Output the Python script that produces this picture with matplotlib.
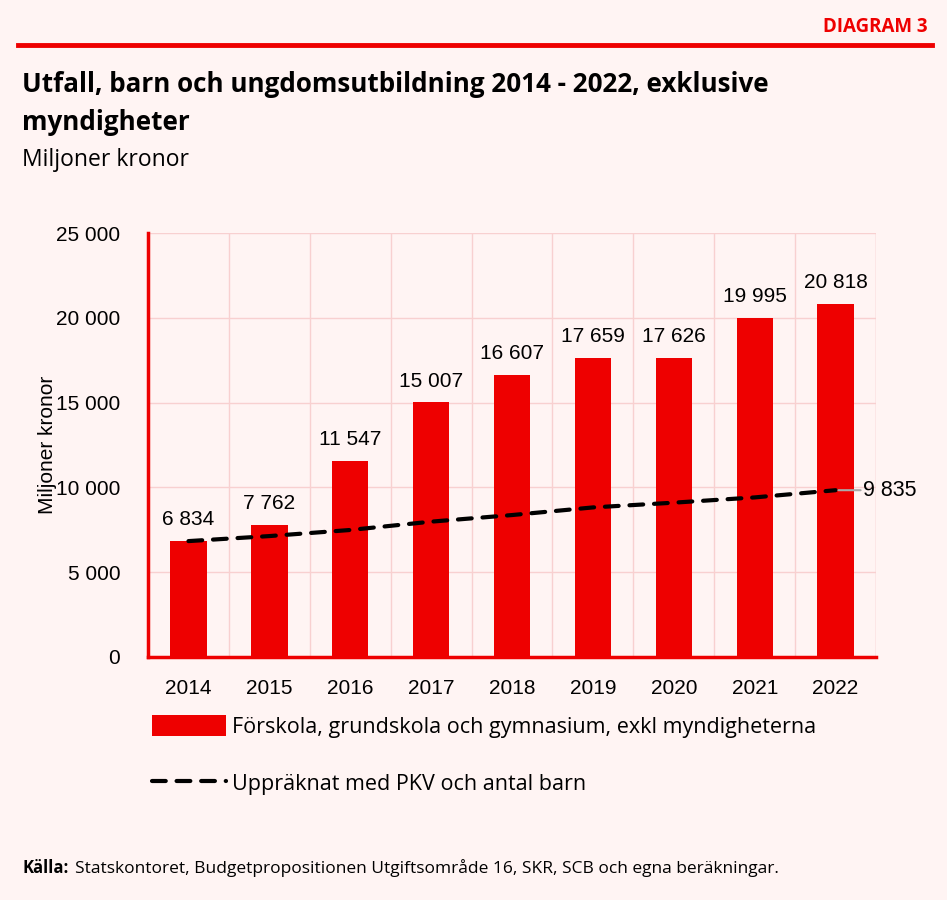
import matplotlib
matplotlib.use("Agg")
import matplotlib.pyplot as plt
import numpy as np

# data
years = ["2014", "2015", "2016", "2017", "2018", "2019", "2020", "2021", "2022"]
outcome = [6834, 7762, 11547, 15007, 16607, 17659, 17626, 19995, 20818]
adjusted = [6834, 7130, 7490, 7980, 8370, 8820, 9100, 9410, 9835]
yticks = [0, 5000, 10000, 15000, 20000, 25000]

bg = "#fff4f3"
red = "#ee0000"
grid_col = "#f8d0d0"
title_font = "Open Sans"
num_font = "Liberation Sans"

def fmt(v):
    return f"{v:,}".replace(",", " ")

fig = plt.figure(figsize=(9.47, 9.0), dpi=100, facecolor=bg)
ax = fig.add_axes([0.1563, 0.27, 0.7688, 0.4711])
ax.set_facecolor(bg)

x = np.arange(len(years))
bars = ax.bar(x, outcome, width=0.45, color=red, zorder=2,
              label="Förskola, grundskola och gymnasium, exkl myndigheterna")
line, = ax.plot(x, adjusted, color="black", lw=3, dashes=(3.3, 2.6),
                solid_capstyle="round", dash_capstyle="round", zorder=3,
                label="Uppräknat med PKV och antal barn")

for xi, v in zip(x, outcome):
    ax.text(xi, v + 700, fmt(v), ha="center", va="bottom",
            fontsize=15, family=num_font, color="black")

ax.annotate(fmt(adjusted[-1]), xy=(x[-1], adjusted[-1]), xytext=(20, 0),
            textcoords="offset points", ha="left", va="center",
            fontsize=15.5, family=num_font,
            arrowprops=dict(arrowstyle="-", color="#aaaaaa", lw=1.5,
                            shrinkA=0, shrinkB=2))

ax.set_xlim(-0.5, len(years) - 0.5)
ax.set_ylim(0, 25000)
ax.set_xticks(x)
ax.set_xticklabels(years, fontsize=15, family=num_font)
ax.set_yticks(yticks)
ax.set_yticklabels([fmt(t) for t in yticks], fontsize=15, family=num_font)
ax.set_xticks(np.arange(-0.5, len(years)), minor=True)
ax.tick_params(which="both", length=0)
ax.tick_params(axis="x", pad=16)
ax.tick_params(axis="y", pad=20)
ax.grid(which="minor", axis="x", color=grid_col, lw=1, zorder=0)
ax.grid(which="major", axis="y", color=grid_col, lw=1, zorder=0)
ax.axvline(len(years) - 0.5, color=grid_col, lw=1, zorder=0)

for s in ["top", "right"]:
    ax.spines[s].set_visible(False)
for s in ["left", "bottom"]:
    ax.spines[s].set_color(red)
    ax.spines[s].set_linewidth(2.5)

ax.set_ylabel("Miljoner kronor", fontsize=15, family=num_font, labelpad=-1)

leg = fig.legend(handles=[bars, line], loc="upper left",
                 bbox_to_anchor=(152 / 947, 1 - 715 / 900), frameon=False,
                 handlelength=3.45, handleheight=1.1, borderpad=0,
                 borderaxespad=0, handletextpad=0.25, labelspacing=1.6,
                 prop=dict(family=title_font, size=15.5))

# header
fig.add_artist(plt.Line2D([18 / 947, 932 / 947], [1 - 45 / 900, 1 - 45 / 900],
                          color=red, lw=3.5))
fig.text(928 / 947, 1 - 27 / 900, "DIAGRAM 3", ha="right", va="center",
         fontsize=13.5, fontweight="bold", color=red, family=title_font)
fig.text(22 / 947, 1 - 85 / 900, "Utfall, barn och ungdomsutbildning 2014 - 2022, exklusive",
         ha="left", va="center", fontsize=18.7, fontweight="bold", family=title_font)
fig.text(22 / 947, 1 - 122 / 900, "myndigheter",
         ha="left", va="center", fontsize=18.7, fontweight="bold", family=title_font)
fig.text(22 / 947, 1 - 160 / 900, "Miljoner kronor",
         ha="left", va="center", fontsize=16.5, family=title_font)

# footer
fig.text(22 / 947, 1 - 868 / 900, "Källa:", ha="left", va="center",
         fontsize=12, fontweight="bold", family=title_font)
fig.text(75 / 947, 1 - 868 / 900,
         "Statskontoret, Budgetpropositionen Utgiftsområde 16, SKR, SCB och egna beräkningar.",
         ha="left", va="center", fontsize=12.5, family=title_font)

fig.savefig("out.png", dpi=100, facecolor=bg)
